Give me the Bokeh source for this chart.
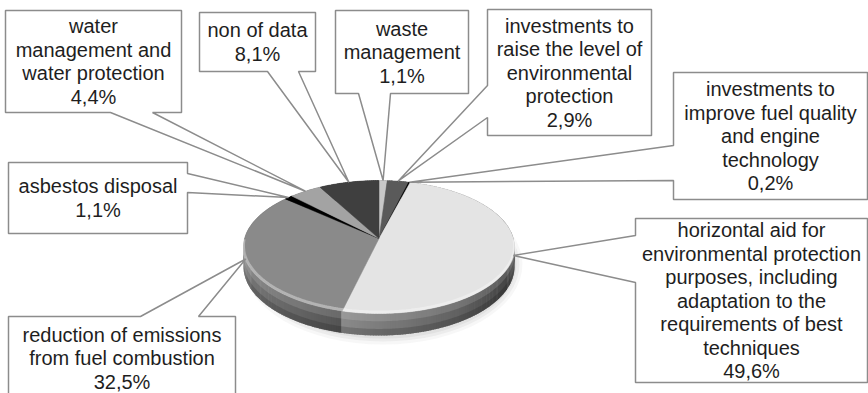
import numpy as np
from bokeh.plotting import figure
from bokeh.models import Range1d
from bokeh.core.properties import value
from bokeh.embed import file_html
from bokeh.resources import INLINE

# ---------------- data (clockwise from 12 o'clock) ----------------
categories = [
    "waste management",
    "investments to raise the level of environmental protection",
    "investments to improve fuel quality and engine technology",
    "horizontal aid for environmental protection purposes, including adaptation to the requirements of best techniques",
    "reduction of emissions from fuel combustion",
    "asbestos disposal",
    "water management and water protection",
    "non of data",
]
values = [1.1, 2.9, 0.2, 49.6, 32.5, 1.1, 4.4, 8.1]
pct_labels = ["1,1%", "2,9%", "0,2%", "49,6%", "32,5%", "1,1%", "4,4%", "8,1%"]
name_lines = [
    ["waste", "management"],
    ["investments to", "raise the level of", "environmental", "protection"],
    ["investments to", "improve fuel quality", "and engine", "technology"],
    ["horizontal aid for", "environmental protection", "purposes, including",
     "adaptation to the", "requirements of best", "techniques"],
    ["reduction of emissions", "from fuel combustion"],
    ["asbestos disposal"],
    ["water", "management and", "water protection"],
    ["non of data"],
]
top_colors = [200, 90, 0, 228, 138, 0, 163, 63]   # grey levels of the slices

# ---------------- layout / style ----------------
W, H = 868, 393
CX, CY = 378.5, 238.0        # projected pie centre
A, B, K = 134.4, 65.4, 0.128  # perspective ellipse parameters
DEPTH = 19.2
LINE_H = 23.5
FONT = "Liberation Sans"

# callout boxes: left, top, right, bottom, edge with pointer, pointer base u1, u2
boxes = [
    (335, 10, 468, 93, "bottom", 358, 390),
    (487, 9, 651, 135, "left", 85, 117),
    (673, 72, 867, 199, "left", 145, 180),
    (635, 218, 867, 382, "left", 235, 282),
    (8, 316, 235, 399, "top", 140, 198),
    (8, 162, 187, 233, "right", 173, 192),
    (5, 10, 181, 112, "bottom", 110, 152),
    (199, 12, 315, 71, "bottom", 267, 298),
]


def proj(theta_deg, r=1.0):
    t = np.radians(theta_deg)
    X, Z = r * np.sin(t), r * np.cos(t)
    d = 1 + K * Z
    return CX + A * X / d, CY - B * Z / d


def depth(theta_deg):
    return DEPTH / (1 + K * np.cos(np.radians(theta_deg)))


def grey(level):
    v = int(max(0, min(255, round(level))))
    return "#%02x%02x%02x" % (v, v, v)


def side_factor(x):
    return float(np.interp(x, [243, 344, 460, 514], [0.86, 0.6, 0.42, 0.28]))


total = sum(values)
bounds = np.concatenate([[0], np.cumsum(values) / total * 360.0])

p = figure(width=W, height=H, x_range=Range1d(0, W), y_range=Range1d(H, 0),
           output_backend="svg", toolbar_location=None, min_border=0)
p.axis.visible = False
p.grid.visible = False
p.outline_line_color = None
p.background_fill_color = "white"
p.border_fill_color = "white"

# soft shadow under the pie
bx, by = proj(180)
for i, alpha in enumerate([0.07, 0.09, 0.11]):
    grow = 8 - 3 * i
    p.ellipse(x=CX + 4, y=CY + 26, width=2 * A + 2 * grow - 6,
              height=2 * (by + DEPTH * 1.15 - CY - 26) + 2 * grow + 2,
              fill_color="#8a8a8a", fill_alpha=alpha, line_color=None)

# side strips, back to front (slightly overlapping to avoid seams)
strips = []
for i in range(len(values)):
    a0, a1 = bounds[i], bounds[i + 1]
    n = max(1, int(np.ceil((a1 - a0) / 1.0)))
    ts = np.linspace(a0, a1, n + 1)
    for ta, tb in zip(ts[:-1], ts[1:]):
        tb2 = min(tb + 0.4, a1 if i == len(values) - 1 else tb + 0.4)
        xa, ya = proj(ta)
        xb, yb = proj(tb2)
        ha, hb = depth(ta), depth(tb2)
        f = side_factor((xa + xb) / 2)
        zmid = np.cos(np.radians((ta + tb) / 2))
        col = grey(top_colors[i] * f)
        strips.append((zmid, [xa, xb, xb, xa], [ya, yb, yb + hb, ya + ha], col))
strips.sort(key=lambda s: -s[0])
p.patches([s[1] for s in strips], [s[2] for s in strips],
          fill_color=[s[3] for s in strips], line_color=None)

# vertical shading of the side: lighter near the rim, darker at the base
ext = np.degrees(np.arccos(-K))
ts = np.linspace(ext, 360 - ext, 240)
rx, ry = proj(ts)
hh = depth(ts)
p.patch(list(rx) + list(rx[::-1]), list(ry) + list((ry + 0.35 * hh)[::-1]),
        fill_color="white", fill_alpha=0.13, line_color=None)
p.patch(list(rx) + list(rx[::-1]), list(ry + 0.7 * hh) + list((ry + hh)[::-1]),
        fill_color="black", fill_alpha=0.16, line_color=None)

# top faces
txs, tys, tcs = [], [], []
for i in range(len(values)):
    a0, a1 = bounds[i], bounds[i + 1]
    n = max(2, int(np.ceil((a1 - a0) / 0.5)))
    ts = np.linspace(a0, a1, n + 1)
    xs, ys = proj(ts)
    txs.append([CX] + list(xs))
    tys.append([CY] + list(ys))
    tcs.append(grey(top_colors[i]))
p.patches(txs, tys, fill_color=tcs, line_color=tcs, line_width=0.5)

# bevel highlight on the front rim
ts = np.linspace(92, 268, 200)
rx, ry = proj(ts)
p.line(rx, ry - 1.5, line_color="white", line_alpha=0.35, line_width=3)

# callouts
def callout(box, tip):
    l, t, r, b, edge, u1, u2 = box
    pts = [(l, t)]
    if edge == "top":
        pts += [(u1, t), tip, (u2, t)]
    pts += [(r, t)]
    if edge == "right":
        pts += [(r, u1), tip, (r, u2)]
    pts += [(r, b)]
    if edge == "bottom":
        pts += [(u2, b), tip, (u1, b)]
    pts += [(l, b)]
    if edge == "left":
        pts += [(l, u2), tip, (l, u1)]
    return [q[0] for q in pts], [q[1] for q in pts]

cxs, cys = [], []
for i, box in enumerate(boxes):
    mid = (bounds[i] + bounds[i + 1]) / 2
    tip = proj(mid)
    xs, ys = callout(box, (float(tip[0]), float(tip[1])))
    cxs.append(xs)
    cys.append(ys)
p.patches(cxs, cys, fill_color="white", line_color=None)
p.patches(cxs, cys, fill_color=None, line_color="#8c8c8c", line_width=1.5)

# label texts
lx, ly, lt = [], [], []
for i, box in enumerate(boxes):
    l, t, r, b = box[:4]
    lines = name_lines[i] + [pct_labels[i]]
    cxm, cym = (l + r) / 2, (t + b) / 2
    n = len(lines)
    for j, s in enumerate(lines):
        lx.append(cxm)
        ly.append(cym + (j - (n - 1) / 2) * LINE_H)
        lt.append(s)
p.text(x=lx, y=ly, text=lt, text_font=value(FONT), text_font_size=value("20px"),
       text_align="center", text_baseline="middle", text_color="#1e1e1e")

open("out.html", "w").write(file_html(p, INLINE))
